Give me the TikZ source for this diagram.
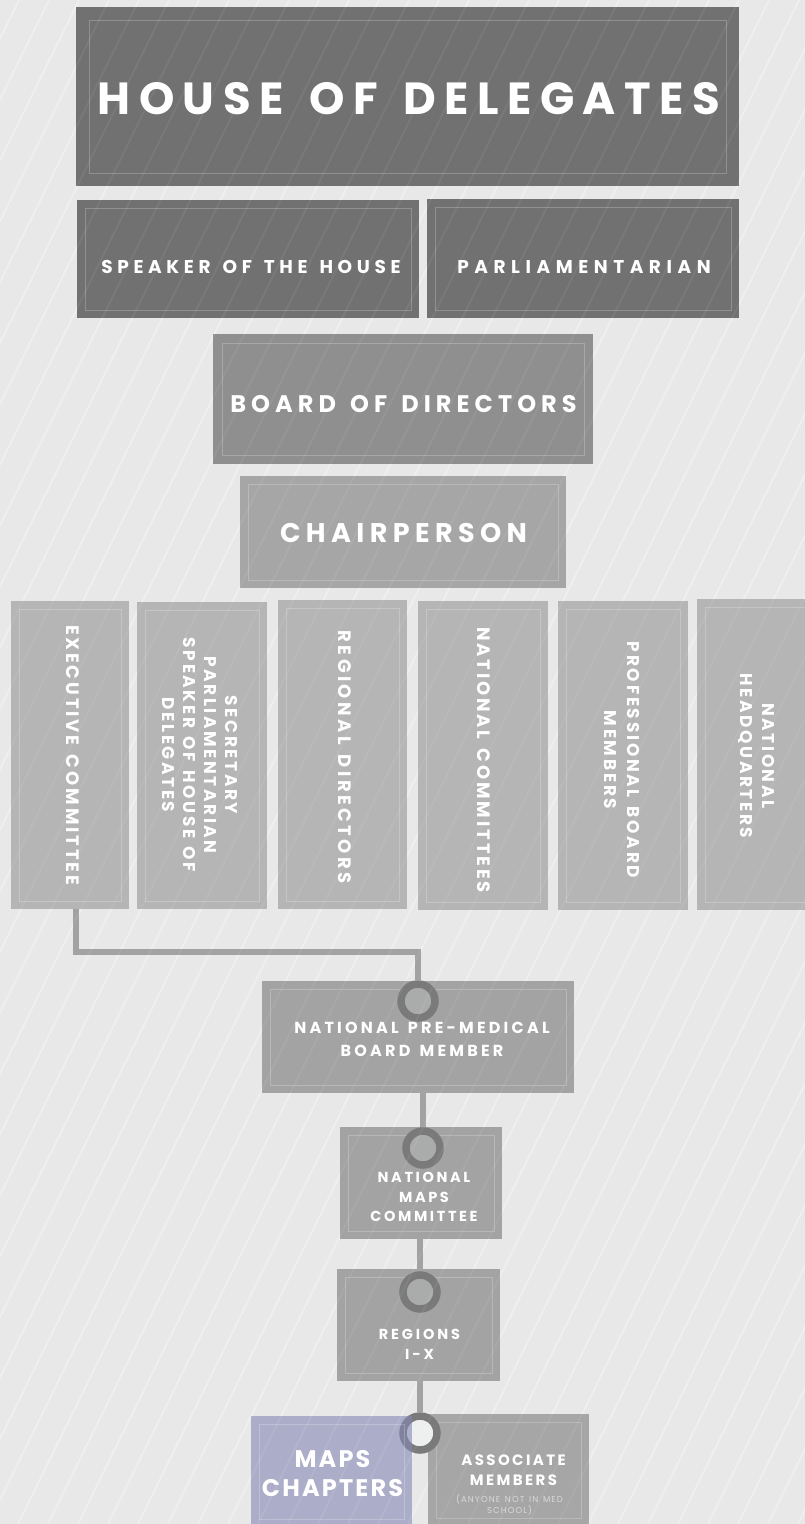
\documentclass[tikz,border=0pt]{standalone}
\usepackage{fontspec}
\setmainfont{Poppins}
\newfontfamily\spaced[WordSpace=1.4]{Poppins}
\newcommand\setlbl[3]{\spaced\bfseries\addfontfeatures{LetterSpace=#3}\fontsize{#1}{#2}\selectfont}
\usetikzlibrary{positioning}
\pgfdeclarelayer{bg}
\pgfdeclarelayer{back}
\pgfdeclarelayer{front}
\pgfsetlayers{bg,back,main,front}

\definecolor{paper}{HTML}{E8E8E8}
\definecolor{streak}{HTML}{EEEEEE}
\definecolor{hodgrey}{HTML}{717171}
\definecolor{boardgrey}{HTML}{8F8F8F}
\definecolor{chairgrey}{HTML}{A6A6A6}
\definecolor{colgrey}{HTML}{B5B5B5}
\definecolor{lowgrey}{HTML}{A3A3A3}
\definecolor{chapter}{RGB}{132,135,179}
\definecolor{wire}{HTML}{A2A2A2}
\definecolor{ringc}{HTML}{7A7A7A}
\definecolor{ringfill}{HTML}{AAACAB}
\definecolor{ringlight}{HTML}{EEF0EF}
\definecolor{note}{HTML}{DADADA}

\begin{document}
\begin{tikzpicture}[x=1pt,y=-1pt]
\tikzset{panel/.style 2 args={rectangle, anchor=north west, inner sep=0, fill=#1,
  path picture={\draw[white, opacity=.22, line width=.8pt]
    ([shift={(#2,-#2)}]path picture bounding box.north west) rectangle
    ([shift={(-#2,#2)}]path picture bounding box.south east);}}}
\tikzstyle{txt} = [text=white, align=center, inner sep=0]
\tikzstyle{ring} = [circle, draw=ringc, line width=7.5pt, minimum size=34pt, inner sep=0]
\tikzstyle{link} = [draw=wire, line width=6pt]
\tikzstyle{streakline} = [streak, line width=2pt]

\useasboundingbox (0,0) rectangle (805,1524);
\begin{pgfonlayer}{bg}
\fill[paper] (0,0) rectangle (805,1524);
\begin{scope}
\clip (0,0) rectangle (805,1524);
\foreach \k in {-26,...,27}
  \draw[streakline] (18+\k*30,1524) -- ++(751,-1524);
\end{scope}
\end{pgfonlayer}

% house, speaker, parliamentarian
\node[panel={hodgrey}{13pt}, minimum width=663pt, minimum height=179pt] (hod) at (76,7) {};
\node[panel={hodgrey}{8pt}, minimum width=342pt, minimum height=118pt] (spk) at (77,200) {};
\node[panel={hodgrey}{8pt}, minimum width=312pt, minimum height=119pt] (parl) at (427,199) {};
\node[panel={boardgrey}{9pt}, minimum width=380pt, minimum height=130pt] (bod) at (213,334) {};
\node[panel={chairgrey}{8pt}, minimum width=326pt, minimum height=112pt] (chair) at (240,476) {};

% the six columns
\node[panel={colgrey}{8pt}, minimum width=118pt, minimum height=308pt] (exec) at (11,601) {};
\node[panel={colgrey}{8pt}, minimum width=130pt, minimum height=307pt] (sec) at (137,602) {};
\node[panel={colgrey}{8pt}, minimum width=129pt, minimum height=309pt] (regdir) at (278,600) {};
\node[panel={colgrey}{8pt}, minimum width=130pt, minimum height=309pt] (natcom) at (418,601) {};
\node[panel={colgrey}{8pt}, minimum width=130pt, minimum height=309pt] (prof) at (558,601) {};
\node[panel={colgrey}{8pt}, minimum width=130pt, minimum height=311pt] (hq) at (697,599) {};

% lower chain
\node[panel={lowgrey}{8pt}, minimum width=312pt, minimum height=112pt] (npmbm) at (262,981) {};
\node[panel={lowgrey}{8pt}, minimum width=162pt, minimum height=112pt] (natmaps) at (340,1127) {};
\node[panel={lowgrey}{8pt}, minimum width=163pt, minimum height=112pt] (reg) at (337,1269) {};
\node[panel={chairgrey}{8pt}, minimum width=161pt, minimum height=112pt] (assoc) at (428,1414) {};

\node[ring, fill=ringfill] (c1) at (418,1001) {};
\node[ring, fill=ringfill] (c2) at (423,1148) {};
\node[ring, fill=ringfill] (c3) at (420,1292) {};
\node[ring, fill=ringlight] (c4) at (420,1433) {};
\node[panel={chapter}{8pt}, fill opacity=.6, minimum width=161pt, minimum height=111pt] (chap) at (251,1416) {};

\begin{pgfonlayer}{back}
\draw[link] ([xshift=6pt]exec.south) -- ++(0,43) -| (c1);
\draw[link] (c2 |- npmbm.south) -- (c2);
\draw[link] (c3 |- natmaps.south) -- (c3);
\draw[link] (c4 |- reg.south) -- (c4);
\end{pgfonlayer}

% texts
\node[txt, font=\setlbl{45}{50}{19}] (hod-t) at (409,99) {HOUSE OF DELEGATES};
\node[txt, font=\setlbl{18.5}{22}{25}] (spk-t) at (251,267) {SPEAKER OF THE HOUSE};
\node[txt, font=\setlbl{18.5}{22}{30}] (parl-t) at (584,267) {PARLIAMENTARIAN};
\node[txt, font=\setlbl{24}{28}{21}] (bod-t) at (403.5,404) {BOARD OF DIRECTORS};
\node[txt, font=\setlbl{27}{30}{20}] (chair-t) at (403.5,533) {CHAIRPERSON};

\node[txt, rotate=-90, font=\setlbl{18}{22}{16}] (exec-t) at (73,755) {EXECUTIVE COMMITTEE};
\node[txt, rotate=-90, font=\setlbl{17}{21}{15}] (sec-t) at (200,755) {SECRETARY\\PARLIAMENTARIAN\\SPEAKER OF HOUSE OF\\DELEGATES};
\node[txt, rotate=-90, font=\setlbl{18}{22}{19}] (regdir-t) at (344.5,757) {REGIONAL DIRECTORS};
\node[txt, rotate=-90, font=\setlbl{18}{22}{16}] (natcom-t) at (484,760) {NATIONAL COMMITTEES};
\node[txt, rotate=-90, font=\setlbl{17}{23}{16}] (prof-t) at (622,760) {PROFESSIONAL BOARD\\MEMBERS};
\node[txt, rotate=-90, font=\setlbl{17}{22}{15}] (hq-t) at (757,756) {NATIONAL\\HEADQUARTERS};

\node[txt, font=\setlbl{16}{23}{20}] (npmbm-t) at (422,1039.5) {NATIONAL PRE-MEDICAL\\BOARD MEMBER};
\node[txt, font=\setlbl{14.5}{19.5}{18}] (natmaps-t) at (424,1197) {NATIONAL\\MAPS\\COMMITTEE};
\node[txt, font=\setlbl{14.5}{20}{20}] (reg-t) at (419.5,1344) {REGIONS\\I-X};
\node[txt, font=\setlbl{24}{29}{9}] (chap-t) at (332.5,1473.5) {MAPS\\CHAPTERS};
\node[txt, font=\setlbl{15}{20}{16}] (assoc-t) at (513.5,1470) {ASSOCIATE\\MEMBERS};
\node[txt, text=note, font={\spaced\addfontfeatures{LetterSpace=13}\fontsize{8.5}{11}\selectfont}] (assoc-n) at (509.5,1504.5) {(ANYONE NOT IN MED\\SCHOOL)};

\begin{pgfonlayer}{front}
\begin{scope}
\clip (0,0) rectangle (805,1524);
\foreach \k in {-26,...,27}
  \draw[white, opacity=.06, line width=2pt] (18+\k*30,1524) -- ++(751,-1524);
\end{scope}
\end{pgfonlayer}
\end{tikzpicture}
\end{document}
